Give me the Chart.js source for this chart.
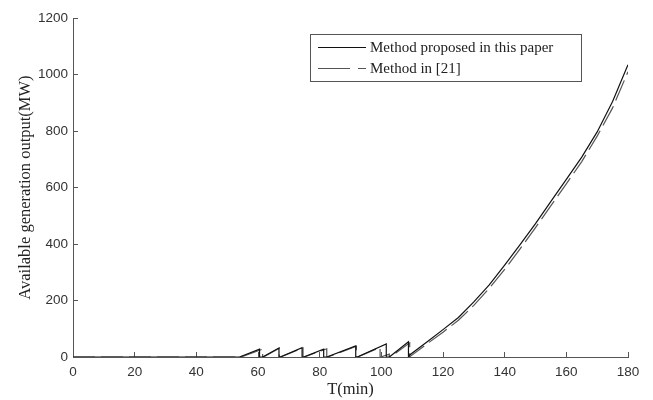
<!DOCTYPE html>
<html>
<head>
<meta charset="utf-8">
<script src="https://cdn.jsdelivr.net/npm/chart.js@4/dist/chart.umd.min.js"></script>
<style>
html,body{margin:0;padding:0;background:#fff;}
#wrap{width:653px;height:400px;position:relative;}
</style>
</head>
<body>
<div id="wrap"><canvas id="c" width="653" height="400"></canvas></div>
<script>
// Data
const seriesNames = ["Method proposed in this paper", "Method in [21]"];
const xTicks = [0, 20, 40, 60, 80, 100, 120, 140, 160, 180];
const yTicks = [0, 200, 400, 600, 800, 1000, 1200];

const proposedT = [0, 54, 60.5, 60.5, 61.5, 66.8, 66.8, 67.2, 74.3, 74.3, 74.8, 81.3, 81.3, 82.3, 91.7, 91.7, 92.2, 101.6, 101.6, 102.6, 108.8, 108.8, 109.3, 115, 120, 125, 130, 135, 140, 145, 150, 155, 160, 165, 170, 175, 180];
const proposedV = [0, 0, 28, 0, 0, 32, 0, 0, 33, 0, 0, 28, 0, 0, 39, 0, 0, 46, 0, 0, 54, 0, 8, 55, 97, 140, 195, 255, 325, 398, 472, 551, 629, 708, 797, 905, 1035];

const ref21T = [0, 54.5, 61.5, 61.5, 61.8, 66.9, 66.9, 67.3, 74.6, 74.6, 75, 82.3, 82.3, 82.6, 91.9, 91.9, 92.3, 99.6, 99.6, 99.8, 102.6, 102.6, 103, 109.2, 109.2, 109.6, 115, 120, 125, 130, 135, 140, 145, 150, 155, 160, 165, 170, 175, 180];
const ref21V = [0, 0, 28, 0, 0, 31, 0, 0, 32, 0, 0, 29, 0, 0, 38, 0, 0, 34, 0, 0, 10, 0, 0, 50, 0, 4, 48, 88, 130, 183, 243, 310, 383, 458, 536, 613, 692, 782, 882, 1010];

const toPts = (t, v) => t.map((x, i) => ({x: x, y: v[i]}));

const legendBox = {
  id: 'legendBox',
  afterDraw(chart) {
    const ctx = chart.ctx;
    ctx.save();
    ctx.fillStyle = '#fff';
    ctx.strokeStyle = '#555';
    ctx.lineWidth = 1;
    ctx.fillRect(310.5, 34.5, 271, 47);
    ctx.strokeRect(310.5, 34.5, 271, 47);
    const ds = chart.data.datasets;
    const rows = [47.5, 68.5];
    ds.forEach((d, i) => {
      ctx.beginPath();
      ctx.strokeStyle = d.borderColor;
      ctx.lineWidth = d.borderWidth;
      ctx.setLineDash(i === 1 ? [32, 8] : []);
      ctx.moveTo(318, rows[i]);
      ctx.lineTo(366, rows[i]);
      ctx.stroke();
      ctx.setLineDash([]);
      ctx.fillStyle = '#222';
      ctx.font = '15px "Liberation Serif", serif';
      ctx.textBaseline = 'middle';
      ctx.textAlign = 'left';
      ctx.fillText(d.label, 370, rows[i] + 0.5);
    });
    ctx.restore();
  }
};

new Chart(document.getElementById('c'), {
  type: 'line',
  data: {
    datasets: [
      {label: seriesNames[0], data: toPts(proposedT, proposedV), borderColor: '#111', borderWidth: 1.2, pointRadius: 0, tension: 0, fill: false},
      {label: seriesNames[1], data: toPts(ref21T, ref21V), borderColor: '#555', borderWidth: 1.2, borderDash: [22, 6], pointRadius: 0, tension: 0, fill: false}
    ]
  },
  options: {
    responsive: false,
    animation: false,
    layout: {padding: {left: 0, right: 25, top: 16, bottom: 0}},
    plugins: {legend: {display: false}, tooltip: {enabled: false}},
    scales: {
      x: {
        type: 'linear', min: 0, max: 180,
        afterBuildTicks: (s) => { s.ticks = xTicks.map(v => ({value: v})); },
        afterFit: (s) => { s.height = 43; },
        border: {display: true, color: '#555', width: 1},
        grid: {drawOnChartArea: false, drawTicks: true, tickLength: -5, color: '#555'},
        ticks: {padding: 12, color: '#333', font: {family: '"Liberation Sans", Arial, sans-serif', size: 13.5}, maxRotation: 0, callback: (v) => String(v)},
        title: {display: true, text: 'T(min)', color: '#222', padding: {top: 0, bottom: 0}, font: {family: '"Liberation Serif", serif', size: 16.5}}
      },
      y: {
        type: 'linear', min: 0, max: 1200,
        afterBuildTicks: (s) => { s.ticks = yTicks.map(v => ({value: v})); },
        afterFit: (s) => { s.width = 73; },
        border: {display: true, color: '#555', width: 1},
        grid: {drawOnChartArea: false, drawTicks: true, tickLength: -5, color: '#555'},
        ticks: {padding: 10, color: '#333', font: {family: '"Liberation Sans", Arial, sans-serif', size: 13.5}, callback: (v) => String(v)},
        title: {display: true, text: 'Available generation output(MW)', color: '#222', padding: {top: 16, bottom: 0}, font: {family: '"Liberation Serif", serif', size: 16.5}}
      }
    }
  },
  plugins: [legendBox]
});
</script>
</body>
</html>
